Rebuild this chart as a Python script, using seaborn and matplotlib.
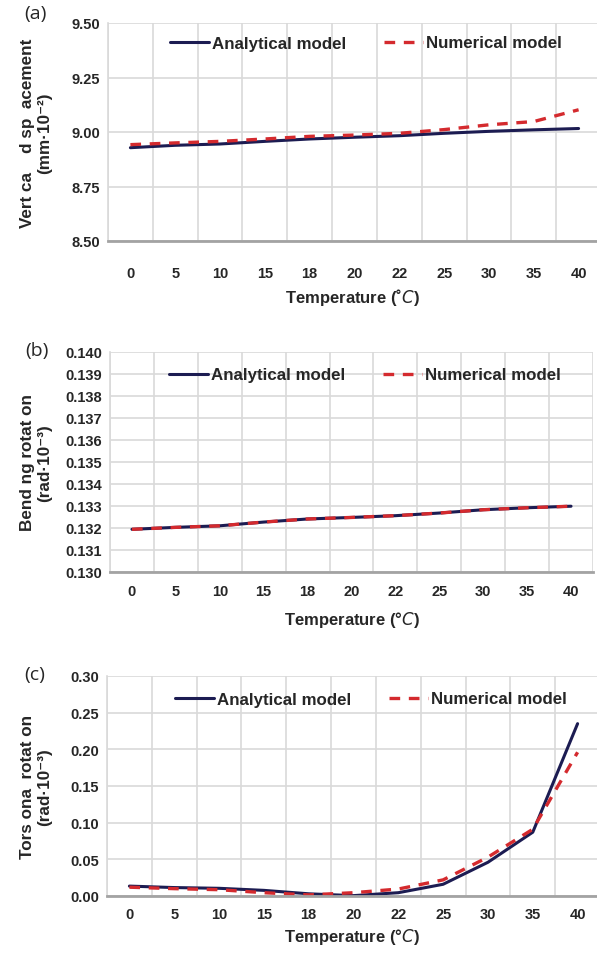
import seaborn as sns
import matplotlib.pyplot as plt
import numpy as np
import pandas as pd

# data
temps = ["0", "5", "10", "15", "18", "20", "22", "25", "30", "35", "40"]

disp_analytical = [8.928, 8.939, 8.945, 8.957, 8.968, 8.976, 8.983, 8.994, 9.003, 9.010, 9.016]
disp_numerical = [8.942, 8.950, 8.957, 8.968, 8.980, 8.986, 8.994, 9.011, 9.033, 9.048, 9.102]

bend_analytical = [0.13194, 0.13203, 0.13210, 0.13227, 0.13241, 0.13248, 0.13256, 0.13268, 0.13283, 0.13292, 0.13299]
bend_numerical = [0.13194, 0.13203, 0.13210, 0.13227, 0.13241, 0.13248, 0.13256, 0.13268, 0.13283, 0.13292, 0.13299]

tors_analytical = [0.0135, 0.0115, 0.0105, 0.0077, 0.0030, 0.0005, 0.0045, 0.0160, 0.0460, 0.0870, 0.2350]
tors_numerical = [0.0120, 0.0100, 0.0086, 0.0045, 0.0015, 0.0045, 0.0095, 0.0220, 0.0530, 0.0910, 0.1960]

sns.set_style("white")
plt.rcParams['font.family'] = ['Liberation Sans', 'DejaVu Sans']

W, H = 597, 954
fig = plt.figure(figsize=(W / 100, H / 100), dpi=100)

NAVY = "#1c1c52"
RED = "#d42a2e"
GRID = "#d9d9d9"


def box(left, right, top, bottom):
    return [left / W, 1 - bottom / H, (right - left) / W, (bottom - top) / H]


panels = [
    dict(tag="(a)", rect=box(108, 601, 24, 242), ana=disp_analytical, num=disp_numerical,
         ylim=(8.5, 9.5), step=0.25, fmt="{:.2f}",
         ylabel="Vert ca    d sp  acement\n(mm·10⁻²)", xlabel="Temperature (˚$C$)",
         tag_xy=(35, 14), leg_y=44, leg_x=366, tick_pad=18, xlab_top=287),
    dict(tag="(b)", rect=box(110, 593, 353, 573), ana=bend_analytical, num=bend_numerical,
         ylim=(0.130, 0.140), step=0.001, fmt="{:.3f}",
         ylabel="Bend ng rotat on\n(rad·10⁻³)", xlabel="Temperature (°$C$)",
         tag_xy=(37, 351), leg_y=376, leg_x=365, tick_pad=9, xlab_top=610),
    dict(tag="(c)", rect=box(107, 600, 677, 897), ana=tors_analytical, num=tors_numerical,
         ylim=(0.0, 0.30), step=0.05, fmt="{:.2f}",
         ylabel="Tors ona  rotat on\n(rad·10⁻³)", xlabel="Temperature (°$C$)",
         tag_xy=(35, 675), leg_y=700, leg_x=371, tick_pad=8, xlab_top=927),
]

pos = np.arange(len(temps))

for p in panels:
    ax = fig.add_axes(p["rect"])
    df = pd.DataFrame({"pos": pos, "Analytical model": p["ana"], "Numerical model": p["num"]})
    sns.lineplot(data=df, x="pos", y="Analytical model", color=NAVY, linewidth=2.2,
                 label="Analytical model", ax=ax)
    sns.lineplot(data=df, x="pos", y="Numerical model", color=RED, linewidth=2.4,
                 linestyle="--", label="Numerical model", ax=ax)
    ax.lines[-1].set_dashes([3.2, 2.6])

    ax.set_xlim(-0.5, 10.5)
    ax.set_ylim(*p["ylim"])
    yt = np.arange(p["ylim"][0], p["ylim"][1] + p["step"] / 2, p["step"])
    ax.set_yticks(yt)
    ax.set_yticklabels([p["fmt"].format(v) for v in yt], fontsize=10.5, fontweight="bold")
    ax.set_xticks(pos)
    ax.set_xticklabels(temps, fontsize=10.5, fontweight="bold")
    ax.set_xticks(np.arange(-0.5, 10.6, 0.5), minor=True)
    ax.tick_params(axis="both", which="both", length=0)
    ax.tick_params(axis="y", pad=5.5)
    ax.tick_params(axis="x", pad=p["tick_pad"])

    ax.grid(False)
    ax.grid(axis="x", which="minor", color=GRID, linewidth=1.2)
    ax.grid(axis="y", which="major", color=GRID, linewidth=1.2)
    ax.set_axisbelow(True)
    for s in ["top", "right"]:
        ax.spines[s].set_visible(False)
    ax.spines["left"].set_color(GRID)
    ax.spines["left"].set_linewidth(1.2)
    ax.spines["bottom"].set_color("#a3a3a3")
    ax.spines["bottom"].set_linewidth(2)
    ax.spines["bottom"].set_zorder(3)

    ax.set_ylabel(p["ylabel"], fontsize=12.3, fontweight="bold", linespacing=1.15)
    left_px = p["rect"][0] * W
    width_px = p["rect"][2] * W
    ax.yaxis.set_label_coords((52 - left_px) / width_px, 0.5)
    ax.set_xlabel(p["xlabel"], fontsize=12, fontweight="bold")
    bottom_px = (1 - p["rect"][1]) * H
    height_px = p["rect"][3] * H
    ax.xaxis.set_label_coords(0.5 + (352 - (left_px + width_px / 2)) / width_px,
                              -(p["xlab_top"] - bottom_px) / height_px)

    ax.legend(loc="center", bbox_to_anchor=(p["leg_x"] / W, 1 - p["leg_y"] / H),
              bbox_transform=fig.transFigure, ncol=2, frameon=False,
              prop={"weight": "bold", "size": 12.2}, handlelength=2.3,
              handletextpad=0.2, columnspacing=2.2)

    fig.text(p["tag_xy"][0] / W, 1 - p["tag_xy"][1] / H, p["tag"], fontsize=14,
             family=["Open Sans", "DejaVu Sans"], ha="center", va="center")

fig.savefig("out.png", dpi=100)
